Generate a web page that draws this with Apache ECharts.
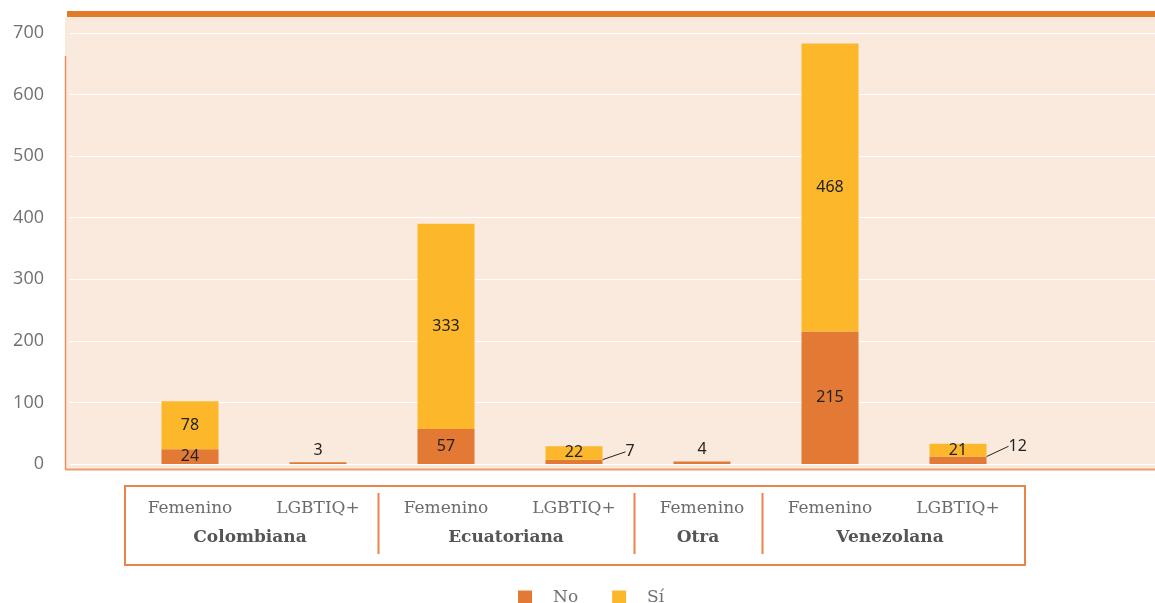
<!DOCTYPE html>
<html><head><meta charset="utf-8">
<script src="https://cdn.jsdelivr.net/npm/echarts@6/dist/echarts.min.js"></script>
<style>html,body{margin:0;padding:0;background:#fff}#c{width:1155px;height:603px}</style>
</head><body><div id="c"></div>
<script>
// ---- data ----
const groups = ['Colombiana','Colombiana','Ecuatoriana','Ecuatoriana','Otra','Venezolana','Venezolana'];
const genders = ['Femenino','LGBTIQ+','Femenino','LGBTIQ+','Femenino','Femenino','LGBTIQ+'];
const noValues = [24, 3, 57, 7, 4, 215, 12];
const siValues = [78, null, 333, 22, null, 468, 21];
const yMin = 0, yMax = 700, yStep = 100;
const seriesNames = ['No', 'Sí'];

const keys = groups.map((g, i) => g + '|' + genders[i]);
const C_NO = '#E27A36', C_SI = '#FCB72A';
const ORANGE = '#E8864A';

// label placement rules
const leaderIdx = noValues.map((v, i) => v < 15 && siValues[i] != null);
const noData = noValues.map((v, i) => {
  if (siValues[i] == null && v < 15) return { value: v, label: { position: 'top', distance: 4 } };
  if (leaderIdx[i]) return { value: v, label: { position: 'right', distance: 5 }, labelLine: { show: true } };
  return v;
});

const chart = echarts.init(document.getElementById('c'));
const labelFont = { color: '#222', fontSize: 16, fontFamily: 'Noto Sans' };

const option = {
  animation: false,
  backgroundColor: '#fff',
  grid: [
    { left: 65, top: 17, right: 0, bottom: 134, show: true, backgroundColor: '#FAEADE', borderWidth: 0 },
    { left: 70, top: 33, right: 0, bottom: 139 },
    { left: 126, top: 33, right: 133, bottom: 139 }
  ],
  xAxis: [
    { gridIndex: 0, type: 'value', show: false },
    { gridIndex: 1, type: 'category', data: keys, show: false },
    {
      gridIndex: 2, type: 'category', data: keys,
      axisLine: { show: false }, axisTick: { show: false },
      axisLabel: {
        formatter: v => v.split('|')[1], margin: 36, interval: 0,
        fontFamily: 'DejaVu Serif', fontSize: 17, color: '#6b6b6b'
      }
    }
  ],
  yAxis: [
    { gridIndex: 0, type: 'value', show: false },
    {
      gridIndex: 1, type: 'value', min: yMin, max: yMax, interval: yStep,
      axisLine: { show: false }, axisTick: { show: false },
      axisLabel: { margin: 26, fontFamily: 'Open Sans', fontSize: 18, color: '#707070' },
      splitLine: { lineStyle: { color: '#ffffff', width: 1.2 } }
    },
    { gridIndex: 2, type: 'value', min: yMin, max: yMax, interval: yStep, show: false, splitLine: { show: false } }
  ],
  legend: {
    data: seriesNames, top: 589, left: 518, padding: 0, itemWidth: 14, itemHeight: 14, icon: 'rect', itemGap: 34,
    textStyle: { fontFamily: 'DejaVu Serif', fontSize: 17, color: '#707070', padding: [0, 0, 0, 16] }
  },
  series: [
    {
      name: seriesNames[0], type: 'bar', stack: 'a', xAxisIndex: 2, yAxisIndex: 2, barWidth: 57,
      itemStyle: { color: C_NO }, data: noData,
      label: Object.assign({ show: true, position: 'inside' }, labelFont),
      labelLine: { show: false, lineStyle: { color: '#222', width: 1 } },
      labelLayout: function (p) {
        if (leaderIdx[p.dataIndex]) {
          const v = noValues[p.dataIndex];
          return v >= 10 ? { dx: 17, dy: -14 } : { dx: 18, dy: -10 };
        }
        return {};
      }
    },
    {
      name: seriesNames[1], type: 'bar', stack: 'a', xAxisIndex: 2, yAxisIndex: 2, barWidth: 57,
      itemStyle: { color: C_SI }, data: siValues,
      label: Object.assign({ show: true, position: 'inside' }, labelFont)
    }
  ]
};
chart.setOption(option);

// decorations + group labels from axis positions
const cx = i => chart.convertToPixel({ xAxisIndex: 2 }, i);
const els = [
  { type: 'rect', z: 100, shape: { x: 67, y: 11, width: 1088, height: 6 }, style: { fill: '#E07B28' } },
  { type: 'line', z: 100, shape: { x1: 65.5, y1: 56, x2: 65.5, y2: 469 }, style: { stroke: '#EB8F5C', lineWidth: 1.5 } },
  { type: 'line', z: 100, shape: { x1: 65, y1: 469.5, x2: 1155, y2: 469.5 }, style: { stroke: '#EE9D6E', lineWidth: 2 } },
  { type: 'rect', z: 100, shape: { x: 125, y: 486, width: 900, height: 79 }, style: { fill: null, stroke: ORANGE, lineWidth: 2 } }
];
const uniq = [];
groups.forEach((g, i) => {
  if (!uniq.length || uniq[uniq.length - 1].name !== g) uniq.push({ name: g, first: i, last: i });
  else uniq[uniq.length - 1].last = i;
});
uniq.forEach((u, k) => {
  const x = (cx(u.first) + cx(u.last)) / 2;
  els.push({
    type: 'text', z: 100, x: x - 4, y: 538,
    style: { text: u.name, fill: '#555', fontFamily: 'DejaVu Serif', fontWeight: 'bold', fontSize: 17, align: 'center', verticalAlign: 'middle' }
  });
  if (k < uniq.length - 1) {
    const sx = Math.round((cx(u.last) + cx(uniq[k + 1].first)) / 2) - 3.5;
    els.push({ type: 'line', z: 100, shape: { x1: sx, y1: 493, x2: sx, y2: 554 }, style: { stroke: ORANGE, lineWidth: 2 } });
  }
});
chart.setOption({ graphic: { elements: els } });
</script>
</body></html>
